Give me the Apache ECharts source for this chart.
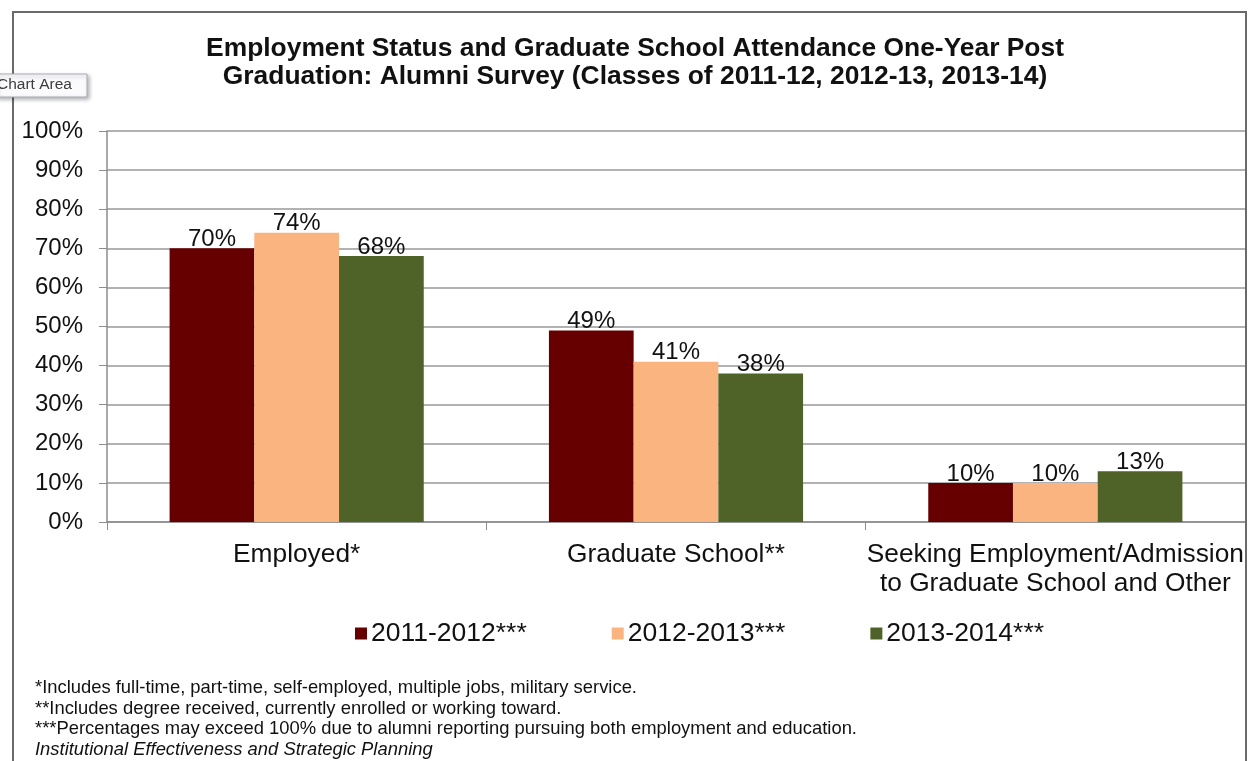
<!DOCTYPE html>
<html><head><meta charset="utf-8">
<script src="https://cdn.jsdelivr.net/npm/echarts@6/dist/echarts.min.js"></script>
<style>html,body{margin:0;padding:0;background:#fff}#c{width:1248px;height:761px}</style>
</head><body><div id="c"></div>
<script>
const categories = ['Employed*', 'Graduate School**', 'Seeking Employment/Admission\nto Graduate School and Other'];
const seriesNames = ['2011-2012***', '2012-2013***', '2013-2014***'];
const values2011 = [70, 49, 10];
const values2012 = [74, 41, 10];
const values2013 = [68, 38, 13];
const yTicks = [0, 10, 20, 30, 40, 50, 60, 70, 80, 90, 100];
const titleText = 'Employment Status and Graduate School Attendance One-Year Post\nGraduation: Alumni Survey (Classes of 2011-12, 2012-13, 2013-14)';
const footnotes = [
  '*Includes full-time, part-time, self-employed, multiple jobs, military service.',
  '**Includes degree received, currently enrolled or working toward.',
  '***Percentages may exceed 100% due to alumni reporting pursuing both employment and education.',
  'Institutional Effectiveness and Strategic Planning'
];
const colors = ['#660000', '#F9B480', '#4F6228'];
const FONT = '"Liberation Sans", Arial, sans-serif';

const chart = echarts.init(document.getElementById('c'));
const mk = (name, data, color) => ({
  name, type: 'bar', data, barGap: '0%', barCategoryGap: '33%',
  itemStyle: { color },
  label: { show: true, position: 'top', distance: -3, formatter: '{c}%', color: '#111', fontSize: 24, fontFamily: FONT }
});
chart.setOption({
  animation: false,
  textStyle: { fontFamily: FONT },
  title: {
    text: titleText, left: 630, top: 30, textAlign: 'center',
    textStyle: { fontSize: 26.4, fontWeight: 'bold', color: '#111', lineHeight: 28, fontFamily: FONT }
  },
  legend: {
    data: seriesNames, left: 355, top: 620, padding: 0, itemWidth: 12, itemHeight: 12, itemGap: 85,
    icon: 'rect',
    textStyle: { fontSize: 26.5, color: '#111', fontFamily: FONT, padding: [0, 0, 0, -1] }
  },
  grid: { left: 107, right: 3, top: 131, bottom: 239, containLabel: false },
  xAxis: {
    type: 'category', data: categories,
    axisLine: { lineStyle: { color: '#8c8c8c', width: 1.5 } },
    axisTick: { show: true, length: 8, lineStyle: { color: '#8c8c8c' } },
    axisLabel: { fontSize: 26.3, color: '#111', margin: 18, lineHeight: 29, fontFamily: FONT, interval: 0 }
  },
  yAxis: {
    type: 'value', min: 0, max: 100, interval: 10,
    axisLine: { show: true, lineStyle: { color: '#8c8c8c', width: 1.5 } },
    axisTick: { show: true, length: 8, lineStyle: { color: '#8c8c8c' } },
    splitLine: { lineStyle: { color: '#999', width: 1.5 } },
    axisLabel: { fontSize: 24, color: '#111', margin: 24, fontFamily: FONT,
      formatter: v => yTicks.includes(v) ? v + '%' : '' }
  },
  series: [mk(seriesNames[0], values2011, colors[0]), mk(seriesNames[1], values2012, colors[1]), mk(seriesNames[2], values2013, colors[2])],
  graphic: [
    { type: 'rect', shape: { x: 13, y: 12, width: 1233, height: 820 }, style: { fill: 'none', stroke: '#6a6a6a', lineWidth: 2 }, z: 10 },
    { type: 'rect', shape: { x: -4, y: 74, width: 91, height: 23 }, style: { fill: '#fbfbfd', stroke: '#a9adb5', lineWidth: 1, shadowBlur: 4, shadowColor: 'rgba(0,0,0,0.3)', shadowOffsetX: 2, shadowOffsetY: 2 }, z: 20 },
    { type: 'text', x: -3, y: 77, style: { text: 'Chart Area', fontSize: 15.5, fill: '#3c3c3c', fontFamily: FONT }, z: 21 },
    ...footnotes.map((t, i) => ({
      type: 'text', left: 35, top: 679 + i * 20.6,
      style: { text: t, fontSize: 18.4, fill: '#111', fontFamily: FONT, fontStyle: i === 3 ? 'italic' : 'normal' }
    }))
  ]
});
</script></body></html>
